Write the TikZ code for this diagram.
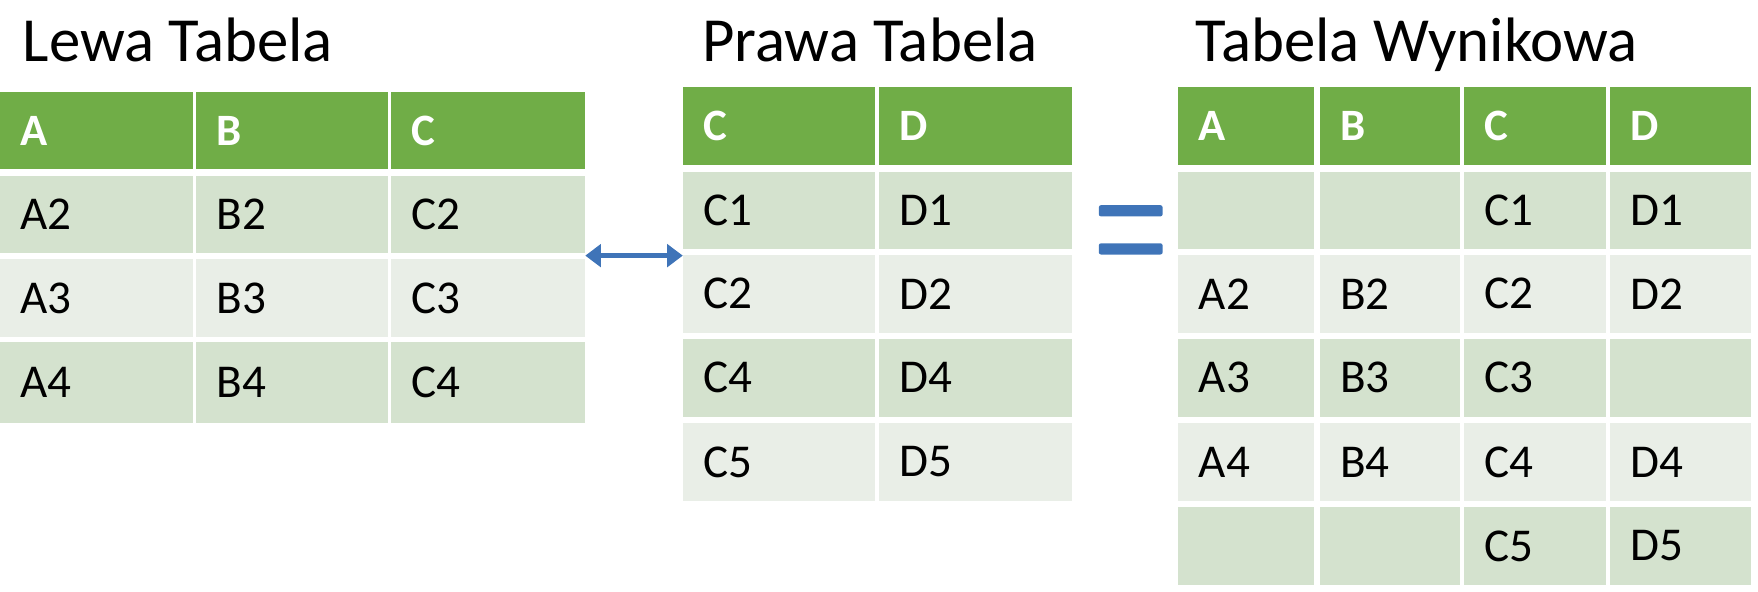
\documentclass[tikz,border=0pt]{standalone}
\usepackage{fontspec}
\setmainfont{Carlito}
\usetikzlibrary{arrows.meta}
\definecolor{hdr}{HTML}{70AD47}
\definecolor{dk}{HTML}{D4E2CE}
\definecolor{lt}{HTML}{E9EEE7}
\definecolor{arr}{HTML}{3F74B8}
\tikzset{
 cell/.style={anchor=west,font=\fontsize{42}{42}\selectfont,text=black,inner sep=0},
 head/.style={anchor=west,font=\fontsize{40}{40}\selectfont\bfseries,text=white,inner sep=0},
 ttl/.style={anchor=west,font=\fontsize{56}{56}\selectfont,inner sep=0}
}
\begin{document}
\begin{tikzpicture}[x=1pt,y=-1pt]
\useasboundingbox (0,0) rectangle (1568,528);
% titles
\node[ttl] (t1) at (20,36) {Lewa Tabela};
\node[ttl] (t2) at (626,36) {Prawa Tabela};
\node[ttl] (t3) at (1066,40) {Tabela Wynikowa};
% generic macro: \cellbox{x1}{x2}{y1}{y2}{color}{text}{style}
\newcommand\cellbox[8]{\fill[#5] (#1,#3) rectangle (#2,#4);
 \node[#7] (#8) at (#1+18,{(#3+#4)/2}) {#6};}
% left table
\foreach \xa/\xb/\h [count=\i] in {0/172/A,175/346/B,349/522/C}{
 \cellbox{\xa}{\xb}{82}{151}{hdr}{\h}{head}{lh\i}
 \cellbox{\xa}{\xb}{157}{226}{dk}{\h2}{cell}{l1\i}
 \cellbox{\xa}{\xb}{231}{301}{lt}{\h3}{cell}{l2\i}
 \cellbox{\xa}{\xb}{305}{377}{dk}{\h4}{cell}{l3\i}
}
% right table
\foreach \xa/\xb/\h [count=\i] in {609/780/C,784/956/D}{
 \cellbox{\xa}{\xb}{78}{147}{hdr}{\h}{head}{rh\i}
 \cellbox{\xa}{\xb}{153}{222}{dk}{\h1}{cell}{r1\i}
 \cellbox{\xa}{\xb}{227}{297}{lt}{\h2}{cell}{r2\i}
 \cellbox{\xa}{\xb}{302}{372}{dk}{\h4}{cell}{r3\i}
 \cellbox{\xa}{\xb}{377}{447}{lt}{\h5}{cell}{r4\i}
}
% result table
\foreach \xa/\xb/\h/\ra/\rb/\rc/\rd/\re [count=\i] in
 {1051/1172/A/{}/A2/A3/A4/{},1177/1302/B/{}/B2/B3/B4/{},1306/1432/C/C1/C2/C3/C4/C5,1436/1562/D/D1/D2/{}/D4/D5}{
 \cellbox{\xa}{\xb}{78}{147}{hdr}{\h}{head}{wh\i}
 \cellbox{\xa}{\xb}{153}{222}{dk}{\ra}{cell}{w1\i}
 \cellbox{\xa}{\xb}{227}{297}{lt}{\rb}{cell}{w2\i}
 \cellbox{\xa}{\xb}{302}{372}{dk}{\rc}{cell}{w3\i}
 \cellbox{\xa}{\xb}{377}{447}{lt}{\rd}{cell}{w4\i}
 \cellbox{\xa}{\xb}{452}{522}{dk}{\re}{cell}{w5\i}
}
% arrow
\coordinate (aL) at (522,228);
\coordinate (aR) at (609,228);
\draw[arr,line width=5pt,{Triangle[length=14pt,width=20pt]}-{Triangle[length=14pt,width=20pt]}] (aL) -- (aR);
% equals
\fill[arr,rounded corners=2pt] (980,183) rectangle (1037,193);
\fill[arr,rounded corners=2pt] (980,217) rectangle (1037,227);
\end{tikzpicture}
\end{document}
